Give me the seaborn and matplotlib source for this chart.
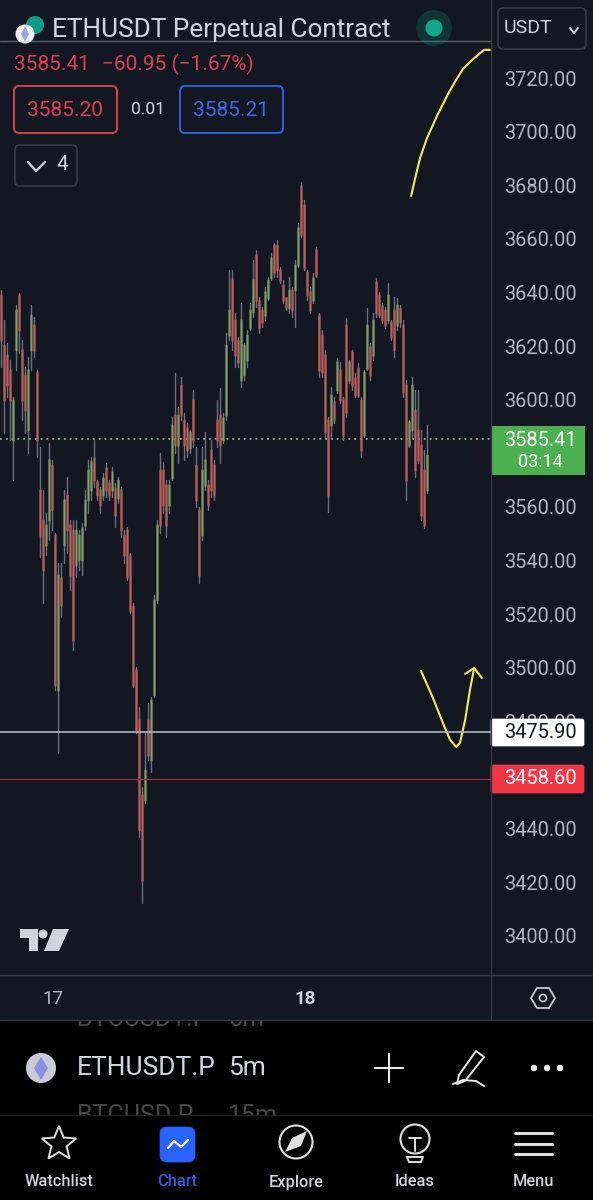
# TradingView phone screenshot: ETHUSDT 5m chart rebuilt with seaborn
import numpy as np
import pandas as pd
import seaborn as sns
import matplotlib.pyplot as plt
from matplotlib.patches import Circle, FancyBboxPatch, Polygon, Rectangle

# candle data
bar_high = [
    3640.9, 3629.8, 3621.2, 3614.8, 3601.0, 3635.3, 3639.8, 3622.3, 3612.2, 3615.9,
    3635.3, 3630.9, 3611.1, 3582.4, 3566.3, 3557.8, 3583.9, 3577.5, 3550.3, 3539.1,
    3539.1, 3566.3, 3571.2, 3555.1, 3555.1, 3555.1, 3551.4, 3554.0, 3566.3, 3577.5,
    3578.6, 3585.0, 3570.0, 3567.4, 3572.7, 3576.4, 3570.0, 3574.9, 3568.9, 3571.2,
    3567.4, 3551.4, 3552.5, 3542.8, 3524.2, 3500.3, 3485.4, 3455.6, 3475.7, 3486.9,
    3489.1, 3527.2, 3555.1, 3580.1, 3576.8, 3570.0, 3570.0, 3593.5, 3610.0, 3597.3,
    3608.5, 3595.0, 3591.3, 3588.7, 3603.6, 3582.4, 3560.0, 3582.4, 3588.0, 3570.0,
    3585.0, 3577.5, 3599.9, 3604.4, 3595.0, 3624.9, 3648.4, 3648.4, 3632.3, 3623.4,
    3636.1, 3621.2, 3626.0, 3636.1, 3652.1, 3655.9, 3638.3, 3634.6, 3642.0, 3645.8,
    3654.7, 3658.5, 3659.6, 3649.5, 3644.7, 3638.3, 3645.8, 3642.0, 3652.1, 3665.9,
    3681.2, 3674.5, 3648.4, 3642.0, 3647.3, 3657.0, 3632.3, 3626.0, 3618.6, 3593.5,
    3604.7, 3601.0, 3615.6, 3614.1, 3601.0, 3630.5, 3614.8, 3618.6, 3610.0, 3613.7,
    3601.0, 3611.1, 3634.2, 3621.2, 3632.3, 3645.4, 3640.2, 3636.1, 3634.6, 3643.5,
    3629.8, 3638.3, 3637.9, 3635.3, 3629.8, 3607.4, 3592.4, 3608.5, 3603.6, 3603.6,
    3588.7, 3581.2, 3590.6,
]
bar_low = [
    3612.2, 3587.6, 3601.0, 3585.0, 3570.0, 3611.1, 3617.4, 3592.4, 3587.6, 3580.1,
    3611.1, 3615.9, 3578.6, 3541.3, 3524.2, 3542.1, 3547.7, 3551.4, 3491.7, 3468.2,
    3518.9, 3539.1, 3542.8, 3529.0, 3506.6, 3533.9, 3536.5, 3534.6, 3551.4, 3557.8,
    3562.6, 3567.4, 3562.6, 3557.8, 3562.6, 3563.7, 3562.6, 3563.7, 3552.5, 3561.5,
    3548.8, 3539.1, 3532.8, 3520.4, 3492.9, 3475.7, 3436.9, 3412.3, 3449.6, 3465.6,
    3461.1, 3489.1, 3524.2, 3550.3, 3557.8, 3548.8, 3557.8, 3570.0, 3580.1, 3576.4,
    3592.4, 3577.5, 3578.6, 3580.1, 3582.4, 3560.0, 3531.6, 3547.7, 3566.3, 3558.9,
    3563.7, 3562.6, 3582.4, 3576.4, 3583.9, 3592.4, 3622.3, 3618.6, 3612.2, 3612.2,
    3604.7, 3607.4, 3612.2, 3626.0, 3630.9, 3634.6, 3624.9, 3627.1, 3629.8, 3637.2,
    3644.7, 3645.8, 3645.8, 3643.5, 3636.1, 3633.5, 3632.3, 3630.9, 3627.1, 3649.5,
    3660.7, 3648.4, 3637.2, 3632.3, 3636.1, 3645.8, 3608.5, 3608.5, 3586.1, 3558.1,
    3586.1, 3591.3, 3602.5, 3598.8, 3585.0, 3593.5, 3606.2, 3603.6, 3601.0, 3601.0,
    3578.6, 3586.1, 3611.1, 3607.4, 3614.8, 3630.9, 3630.9, 3628.6, 3626.8, 3628.6,
    3622.3, 3615.9, 3626.0, 3627.1, 3601.0, 3562.6, 3582.4, 3586.1, 3571.2, 3576.4,
    3555.1, 3552.2, 3565.2,
]
bar_open = [
    3639.1, 3620.4, 3616.7, 3611.1, 3585.0, 3618.6, 3639.1, 3618.6, 3609.2, 3588.7,
    3618.6, 3627.9, 3610.3, 3566.3, 3555.1, 3545.8, 3555.1, 3575.7, 3549.5, 3491.7,
    3533.5, 3545.8, 3564.5, 3553.3, 3551.4, 3538.3, 3540.2, 3540.2, 3553.3, 3562.6,
    3566.3, 3578.3, 3569.3, 3566.3, 3564.5, 3574.5, 3568.9, 3566.3, 3567.0, 3563.4,
    3566.3, 3549.5, 3551.4, 3542.0, 3523.0, 3499.2, 3480.5, 3452.6, 3450.7, 3480.5,
    3465.6, 3489.9, 3525.3, 3573.8, 3573.8, 3568.2, 3560.7, 3570.8, 3594.3, 3583.1,
    3605.5, 3592.4, 3589.5, 3582.0, 3599.9, 3575.7, 3558.9, 3549.5, 3568.2, 3568.2,
    3581.2, 3575.7, 3592.4, 3594.3, 3585.0, 3594.3, 3624.1, 3644.7, 3629.8, 3622.3,
    3607.4, 3609.2, 3614.8, 3626.8, 3632.7, 3654.0, 3637.2, 3633.5, 3631.6, 3637.9,
    3645.4, 3657.7, 3657.7, 3648.4, 3642.8, 3637.9, 3634.2, 3640.9, 3640.9, 3650.3,
    3679.7, 3672.6, 3647.6, 3640.2, 3637.2, 3655.9, 3631.6, 3624.1, 3616.7, 3592.4,
    3590.6, 3599.1, 3603.6, 3611.1, 3599.9, 3627.9, 3607.4, 3617.8, 3608.1, 3611.8,
    3599.9, 3586.9, 3611.8, 3619.7, 3616.7, 3643.9, 3639.1, 3635.0, 3633.5, 3629.8,
    3629.0, 3633.5, 3627.9, 3634.2, 3627.9, 3605.5, 3583.1, 3588.7, 3596.2, 3588.7,
    3583.1, 3573.8, 3566.3,
]
bar_close = [
    3622.3, 3599.9, 3605.5, 3599.9, 3599.9, 3633.5, 3626.0, 3599.9, 3596.2, 3611.1,
    3631.6, 3618.6, 3585.0, 3549.5, 3536.5, 3553.3, 3577.5, 3558.9, 3493.6, 3534.6,
    3523.4, 3562.6, 3551.4, 3534.6, 3510.4, 3551.4, 3549.5, 3552.2, 3562.6, 3573.8,
    3576.8, 3570.0, 3564.5, 3560.7, 3570.8, 3566.3, 3564.5, 3573.0, 3557.0, 3570.0,
    3551.4, 3542.1, 3534.0, 3521.0, 3493.6, 3476.8, 3439.5, 3420.9, 3461.9, 3467.5,
    3488.0, 3525.3, 3553.3, 3553.3, 3560.7, 3553.3, 3568.2, 3590.6, 3583.1, 3594.3,
    3594.3, 3583.1, 3581.2, 3588.0, 3585.0, 3562.6, 3534.6, 3573.8, 3577.5, 3560.7,
    3566.3, 3564.5, 3585.0, 3583.1, 3593.2, 3620.4, 3633.5, 3622.3, 3616.7, 3614.1,
    3629.8, 3620.4, 3624.1, 3633.5, 3644.7, 3637.2, 3626.8, 3629.0, 3640.2, 3644.7,
    3652.9, 3647.6, 3648.4, 3644.7, 3637.2, 3634.2, 3640.9, 3633.5, 3650.3, 3664.1,
    3661.4, 3649.1, 3639.1, 3633.5, 3645.4, 3646.5, 3611.1, 3610.3, 3588.0, 3564.5,
    3601.8, 3592.4, 3614.1, 3599.9, 3586.9, 3595.4, 3614.1, 3605.5, 3601.8, 3601.8,
    3581.2, 3610.3, 3627.9, 3609.2, 3629.8, 3632.3, 3631.6, 3629.8, 3627.9, 3639.1,
    3623.4, 3618.6, 3635.3, 3629.0, 3602.9, 3570.0, 3591.7, 3605.5, 3573.8, 3577.5,
    3557.0, 3553.3, 3579.4,
]

# 3460 and 3580 sit fully behind the price tags in the screenshot
price_ticks = [3400, 3420, 3440, 3480, 3500, 3520, 3540, 3560,
               3600, 3620, 3640, 3660, 3680, 3700, 3720]
day_ticks = [17.33, 101.33]
day_labels = ["17", "18"]

last_price = 3585.41
white_level = 3475.90
red_level = 3458.60
header_level = 3733.8

# hand drawn yellow marks (bar number, price)
arc_bar = [136.7, 138.3, 139.7, 142.0, 145.3, 149.0, 151.7, 154.0, 157.0, 161.0, 163.0]
arc_price = [3676.0, 3683.8, 3690.2, 3697.6, 3705.8, 3714.0, 3719.3, 3723.4, 3726.7, 3730.5, 3730.5]
vee_bar = [140.0, 144.0, 147.3, 149.7, 151.7, 153.0, 154.7, 156.3, 157.7]
vee_price = [3498.8, 3488.7, 3479.4, 3473.1, 3470.5, 3472.0, 3480.5, 3491.7, 3499.9]
head_bar = [154.7, 157.7, 160.3]
head_price = [3497.7, 3499.9, 3496.2]

BG = "#131722"
BORDER = "#363a45"
TICK = "#b2b5be"
RED = "#d9404e"
BLUE = "#2f5fe0"

sns.set_theme(style="dark")
plt.rcParams["font.family"] = ["Roboto", "DejaVu Sans"]

# tidy frames for the wicks and bodies
bars = np.arange(len(bar_high))
wicks = pd.DataFrame({
    "bar": np.tile(bars, 2),
    "price": bar_high + bar_low,
})
bodies = pd.DataFrame({
    "bar": np.tile(bars, 2),
    "price": bar_open + bar_close,
    "side": ["up" if c >= o else "down" for o, c in zip(bar_open, bar_close)] * 2,
})

fig = plt.figure(figsize=(5.93, 12), dpi=100, facecolor="black")

# chart panel
ax = fig.add_axes([0, 225 / 1200, 491 / 593, 975 / 1200], facecolor=BG, zorder=1)
sns.lineplot(data=wicks, x="bar", y="price", units="bar", estimator=None,
             color="#6d717c", linewidth=1.0, ax=ax)
# soft wide layer first, the screenshot is heavily compressed
sns.lineplot(data=bodies, x="bar", y="price", units="bar", estimator=None,
             hue="side", palette={"up": "#8b9a66", "down": "#b8695c"},
             linewidth=2.0, alpha=0.55, legend=False, ax=ax)
sns.lineplot(data=bodies, x="bar", y="price", units="bar", estimator=None,
             hue="side", palette={"up": "#7fa56c", "down": "#d2595a"},
             linewidth=0.9, legend=False, ax=ax)

ax.axhline(last_price, color="#9cc59c", linewidth=1.1, linestyle=(0, (1.2, 2.6)), zorder=1)
ax.axhline(white_level, color="#b2b5be", linewidth=1.2, zorder=3)
ax.axhline(red_level, color="#8d2f3c", linewidth=1.0, zorder=3)
ax.axhline(header_level, color="#5d616c", linewidth=1.0, zorder=1)

for xs, ys in [(arc_bar, arc_price), (vee_bar, vee_price), (head_bar, head_price)]:
    sns.lineplot(x=xs, y=ys, estimator=None, sort=False, color="#f4e85a",
                 linewidth=1.5, ax=ax)

ax.set_xlim(-0.33, 163.33)
ax.set_ylim(3385.4, 3749.1)
ax.set_xlabel("")
ax.set_ylabel("")
ax.grid(False)
for side in ax.spines:
    ax.spines[side].set_visible(False)

ax.yaxis.tick_right()
ax.set_yticks(price_ticks)
ax.set_yticklabels([f"{p:.2f}" for p in price_ticks])
ax.tick_params(axis="y", length=0, pad=9.5, labelsize=14.4, labelcolor=TICK)
ax.set_xticks(day_ticks)
ax.set_xticklabels(day_labels)
ax.tick_params(axis="x", length=0, pad=11, labelsize=13.5, labelcolor=TICK)
ax.get_xticklabels()[1].set_fontweight("bold")
ax.get_xticklabels()[1].set_color("#d1d4dc")

# everything else is screen furniture, laid out in screen pixels
bg = fig.add_axes([0, 0, 1, 1], zorder=0)
bg.set_xlim(0, 593)
bg.set_ylim(1200, 0)
bg.axis("off")
bg.add_patch(Rectangle((0, 0), 593, 1020, color=BG, lw=0))

ui = fig.add_axes([0, 0, 1, 1], zorder=2)
ui.set_xlim(0, 593)
ui.set_ylim(1200, 0)
ui.axis("off")
ui.patch.set_alpha(0)


def label(x, y, s, size, color, ha="left", weight="normal", alpha=1.0):
    return ui.text(x, y, s, fontsize=size, color=color, ha=ha, va="center",
                   fontweight=weight, alpha=alpha)


def stroke(xs, ys, color, lw=1.5):
    ui.plot(xs, ys, color=color, linewidth=lw, solid_capstyle="round",
            solid_joinstyle="round")


def box(x, y, w, h, edge, face="none", lw=1.2, r=5):
    ui.add_patch(FancyBboxPatch((x + r, y + r), w - 2 * r, h - 2 * r,
                                boxstyle=f"round,pad={r}", edgecolor=edge,
                                facecolor=face, linewidth=lw))


# panel borders
stroke([491, 491], [0, 1020], BORDER, 1.0)
stroke([0, 593], [975, 975], BORDER, 1.0)
stroke([0, 593], [1020, 1020], BORDER, 1.0)

# header
ui.add_patch(Circle((35, 25), 9, color="#0f9d8a", lw=0))
ui.add_patch(Circle((25, 34), 9.5, color="#eef0f4", lw=0))
ui.add_patch(Polygon([(25, 26), (29, 34), (25, 42), (21, 34)], color="#9aa6e8", lw=0))
label(52, 30, "ETHUSDT Perpetual Contract", 18.8, "#d1d4dc")
ui.add_patch(Circle((434, 28), 18, color="#089981", alpha=0.22, lw=0))
ui.add_patch(Circle((434, 28), 8.5, color="#0fa88a", lw=0))

box(498, 8, 88, 41, BORDER)
label(504, 28, "USDT", 14, "#d1d4dc")
stroke([570, 574, 578], [28, 33, 28], "#d1d4dc", 1.4)

label(14, 64, "3585.41", 15, RED)
label(102, 64, "\u221260.95 (\u22121.67%)", 15, RED)
box(14, 86, 103, 47, RED, lw=1.4)
label(65, 110, "3585.20", 15, RED, ha="center")
label(148, 110, "0.01", 12.5, "#d1d4dc", ha="center")
box(180, 86, 103, 47, BLUE, lw=1.4)
label(231, 110, "3585.21", 15, "#3a6ae8", ha="center")
box(15, 145, 62, 41, BORDER)
stroke([28, 36, 45], [162, 171, 162], "#d1d4dc", 1.6)
label(62, 165, "4", 15, "#d1d4dc", ha="center")

# price labels on the scale
ui.add_patch(Rectangle((491, 426), 94, 49, color="#4caf50", lw=0))
label(540, 440, "3585.41", 14.4, "white", ha="center")
label(540, 462, "03:14", 13, "white", ha="center")
box(491, 719, 93, 27, "white", face="white", lw=0.5, r=2)
label(540, 733, "3475.90", 14.4, "#131722", ha="center")
box(491, 765, 93, 28, "#f23645", face="#f23645", lw=0.5, r=2)
label(540, 779, "3458.60", 14.4, "white", ha="center")

# TradingView logo
logo = "#d1d4dc"
ui.add_patch(Polygon([(20, 929), (38, 929), (38, 951), (29, 951), (29, 938), (20, 938)], color=logo, lw=0))
ui.add_patch(Circle((43, 934), 4.5, color=logo, lw=0))
ui.add_patch(Polygon([(44, 951), (53, 929), (69, 929), (59, 951)], color=logo, lw=0))

# settings hexagon
ui.add_patch(Polygon([(531, 998), (537, 988), (549, 988), (555, 998), (549, 1008), (537, 1008)],
                     fill=False, edgecolor="#c8cad0", lw=1.3))
ui.add_patch(Circle((543, 998), 3.5, fill=False, edgecolor="#c8cad0", lw=1.2))

# symbol strip, with the neighbours of the scrolling wheel cut off
clip = Rectangle((0, 1021), 593, 94, transform=ui.transData)
for y, sym, tf in [(1019, "BTCUSDT.P", "5m"), (1116, "BTCUSD.P", "15m")]:
    for x, s in [(77, sym), (228, tf)]:
        t = label(x, y, s, 18, "#464646")
        t.set_clip_on(True)
        t.set_clip_path(clip)

ui.add_patch(Circle((41, 1068), 15, color="#c9ccd3", lw=0))
ui.add_patch(Polygon([(41, 1057), (48, 1068), (41, 1080), (34, 1068)], color="#8c8fe6", lw=0))
label(77, 1068, "ETHUSDT.P", 19, "#d1d4dc")
label(228, 1068, "5m", 19, "#d1d4dc")
stroke([375, 403], [1068, 1068], "#e8e8e8", 1.5)
stroke([389, 389], [1054, 1082], "#e8e8e8", 1.5)
stroke([459, 476, 484, 465, 457, 459], [1075, 1051, 1057, 1081, 1084, 1075], "#e8e8e8", 1.4)
stroke([453, 463, 476, 484], [1084, 1080, 1081, 1086], "#e8e8e8", 1.4)
for x in [534, 547, 560]:
    ui.add_patch(Circle((x, 1068), 3.2, color="#e8e8e8", lw=0))
stroke([0, 593], [1115, 1115], "#1e1e1e", 1.0)

# bottom navigation
nav_x = [59, 177, 296, 415, 533]
nav_text = ["Watchlist", "Chart", "Explore", "Ideas", "Menu"]
for x, s in zip(nav_x, nav_text):
    label(x, 1182, s, 11.8, BLUE if s == "Chart" else "#d1d4dc", ha="center",
          weight="medium")

angles = np.deg2rad(np.arange(-90, 270, 36))
radii = np.tile([18, 8], 5)
star = np.c_[59 + radii * np.cos(angles), 1144 + radii * np.sin(angles)]
ui.add_patch(Polygon(star, fill=False, edgecolor="#e0e0e0", lw=1.4))

box(160, 1127, 35, 35, "#2962ff", face="#2962ff", lw=0.5, r=7)
stroke([168, 174, 181, 188], [1148, 1141, 1147, 1140], "white", 1.6)

ui.add_patch(Circle((296, 1142), 16.5, fill=False, edgecolor="#e0e0e0", lw=1.5))
ui.add_patch(Polygon([(285, 1152), (292, 1138), (307, 1131), (301, 1146)], color="#e0e0e0", lw=0))

ui.add_patch(Circle((415, 1139), 14.5, fill=False, edgecolor="#e0e0e0", lw=1.5))
stroke([409, 421], [1138, 1138], "#e0e0e0", 1.4)
stroke([415, 415], [1138, 1151], "#e0e0e0", 1.4)
stroke([407, 423, 421, 409, 407], [1157, 1157, 1162, 1162, 1157], "#e0e0e0", 1.4)

for y in [1133, 1144, 1154]:
    stroke([515, 552], [y, y], "#e0e0e0", 2.2)

fig.savefig("out.png", dpi=100, facecolor=fig.get_facecolor())
